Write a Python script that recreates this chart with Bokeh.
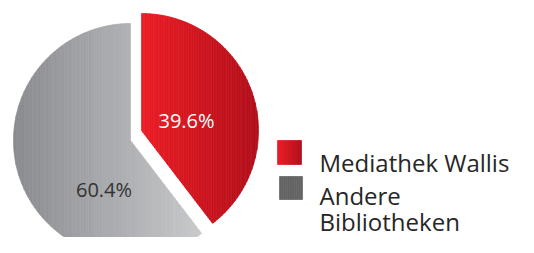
import numpy as np
from bokeh.plotting import figure
from bokeh.models import Range1d
from bokeh.embed import file_html
from bokeh.resources import INLINE
from bokeh.core.properties import value

# ---- data ----
categories = ["Mediathek Wallis", "Andere Bibliotheken"]
shares = [39.6, 60.4]
slice_labels = ["39.6%", "60.4%"]
legend_lines = [["Mediathek Wallis"], ["Andere", "Bibliotheken"]]

# ---- styles / layout ----
grad_left = ["#EC1C24", "#8A8B8F"]
grad_right = ["#B10E1A", "#C8C9CB"]
legend_colors = [("#EC1C24", "#B10E1A"), ("#646464", "#646464")]
label_colors = ["white", "#333333"]
FONT = "Open Sans"

W, H = 518, 237
p = figure(width=W, height=H, x_range=Range1d(0, W), y_range=Range1d(0, H),
           output_backend="svg", toolbar_location=None, min_border=0,
           x_axis_location=None, y_axis_location=None)
p.grid.visible = False
p.outline_line_color = None


def sy(y):
    return H - y


def lerp_color(c0, c1, t):
    a = [int(c0[i:i + 2], 16) for i in (1, 3, 5)]
    b = [int(c1[i:i + 2], 16) for i in (1, 3, 5)]
    return "#%02x%02x%02x" % tuple(int(round(a[k] + (b[k] - a[k]) * t)) for k in range(3))


def clip_x(poly, xv, keep_ge):
    out = []
    n = len(poly)
    for i in range(n):
        cur = poly[i]
        prv = poly[i - 1]
        cin = cur[0] >= xv if keep_ge else cur[0] <= xv
        pin = prv[0] >= xv if keep_ge else prv[0] <= xv
        if cin:
            if not pin:
                t = (xv - prv[0]) / (cur[0] - prv[0])
                out.append((xv, prv[1] + t * (cur[1] - prv[1])))
            out.append(cur)
        elif pin:
            t = (xv - prv[0]) / (cur[0] - prv[0])
            out.append((xv, prv[1] + t * (cur[1] - prv[1])))
    return out


def gradient_fill(poly, c0, c1, nstrips=70):
    xs_all = [q[0] for q in poly]
    x0, x1 = min(xs_all), max(xs_all)
    xs, ys, cols = [], [], []
    edges = np.linspace(x0, x1, nstrips + 1)
    for i in range(nstrips):
        part = clip_x(poly, edges[i], True)
        if not part:
            continue
        part = clip_x(part, edges[i + 1], False)
        if len(part) < 3:
            continue
        xs.append([q[0] for q in part])
        ys.append([q[1] for q in part])
        cols.append(lerp_color(c0, c1, (i + 0.5) / nstrips))
    p.patches(xs, ys, fill_color=cols, line_color=cols, line_width=0.7)


# pie geometry (screen px -> data)
R = 117
centers = [(141, sy(130)), (130, sy(140))]  # red slice exploded
total = sum(shares)
angles = [(90.0 - 360.0 * shares[0] / total, 90.0),
          (90.0, 90.0 + 360.0 * shares[1] / total)]

for k in range(2):
    cx, cy = centers[k]
    a0, a1 = np.radians(angles[k][0]), np.radians(angles[k][1])
    th = np.linspace(a0, a1, 240)
    poly = [(cx, cy)] + [(cx + R * np.cos(t), cy + R * np.sin(t)) for t in th]
    gradient_fill(poly, grad_left[k], grad_right[k])

# slice labels
p.text(x=[186, 103.5], y=[sy(120), sy(189)], text=slice_labels,
       text_align="center", text_baseline="alphabetic", text_color=label_colors,
       text_font=value(FONT), text_font_size="20px")

# legend
sq = [(277, 140, 24), (279, 176, 23)]
for k in range(2):
    x, y, s = sq[k]
    poly = [(x, sy(y)), (x + s, sy(y)), (x + s, sy(y + s)), (x, sy(y + s))]
    gradient_fill(poly, legend_colors[k][0], legend_colors[k][1], nstrips=12)

tx, ty, tt = [], [], []
baselines = [[162.0], [195.0], [220.5]]
baselines = [[162.0], [195.0, 221.0]]
for k in range(2):
    for line, b in zip(legend_lines[k], baselines[k]):
        tx.append(319)
        ty.append(sy(b))
        tt.append(line)
p.text(x=tx, y=ty, text=tt, text_align="left", text_baseline="alphabetic",
       text_color="#262626", text_font=value(FONT), text_font_size="24px")

open("out.html", "w").write(file_html(p, INLINE))
